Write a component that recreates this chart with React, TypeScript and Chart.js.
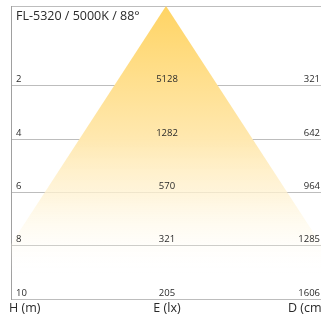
import React, { useEffect, useRef } from "react";
import { Chart, registerables } from "chart.js";

Chart.register(...registerables);

const title = "FL-5320 / 5000K / 88°";
const heights = [2, 4, 6, 8, 10];
const illuminance = ["5128", "1282", "570", "321", "205"];
const diameters = ["321", "642", "964", "1285", "1606"];
const footerLabels = ["H (m)", "E (lx)", "D (cm)"];
const beamX = [-1.23, 0, 1.23];
const beamY = [10, -1, 10];

const FONT = "'Open Sans', 'DejaVu Sans', sans-serif";

const labelPlugin = {
  id: "beamLabels",
  afterDraw(chart: any) {
    const { ctx, chartArea, scales } = chart;
    const y = scales.y;
    const x = scales.x;
    ctx.save();
    ctx.fillStyle = "#2a2a2a";
    ctx.textBaseline = "alphabetic";
    ctx.font = `12.5px ${FONT}`;
    ctx.textAlign = "left";
    ctx.fillText(title, chartArea.left + 5, 20);
    ctx.font = `9.5px ${FONT}`;
    heights.forEach((h, i) => {
      const py = y.getPixelForValue(h) - 3.5;
      ctx.textAlign = "left";
      ctx.fillText(String(h), chartArea.left + 5, py);
      ctx.textAlign = "center";
      ctx.fillText(illuminance[i], x.getPixelForValue(0) + 1, py);
      ctx.textAlign = "right";
      ctx.fillText(diameters[i], chartArea.right - 1, py);
    });
    ctx.font = `12.5px ${FONT}`;
    const fy = y.getPixelForValue(10) + 13;
    ctx.textAlign = "left";
    ctx.fillText(footerLabels[0], chartArea.left - 2, fy);
    ctx.textAlign = "center";
    ctx.fillText(footerLabels[1], x.getPixelForValue(0) + 1, fy);
    ctx.textAlign = "left";
    ctx.fillText(footerLabels[2], chartArea.right - 33, fy);
    ctx.restore();
  },
};

export default function App() {
  const ref = useRef<HTMLCanvasElement | null>(null);
  useEffect(() => {
    if (!ref.current) return;
    const chart = new Chart(ref.current, {
      type: "line",
      data: {
        datasets: [
          {
            data: beamX.map((v, i) => ({ x: v, y: beamY[i] })),
            borderWidth: 0,
            pointRadius: 0,
            fill: { value: 10 },
            tension: 0,
            backgroundColor: (c: any) => {
              const area = c.chart.chartArea;
              if (!area) return "rgba(255,214,110,0.8)";
              const g = c.chart.ctx.createLinearGradient(0, area.top, 0, area.bottom);
              g.addColorStop(0, "rgba(255,212,100,1)");
              g.addColorStop(0.45, "rgba(255,232,175,1)");
              g.addColorStop(0.65, "rgba(255,242,210,0.75)");
              g.addColorStop(0.82, "rgba(255,250,235,0.25)");
              g.addColorStop(0.92, "rgba(255,255,255,0)");
              return g;
            },
          },
        ],
      },
      options: {
        animation: false,
        responsive: false,
        maintainAspectRatio: false,
        layout: { padding: { left: 11, top: 6, right: 0, bottom: 19 } },
        plugins: { legend: { display: false }, tooltip: { enabled: false } },
        scales: {
          x: { type: "linear", min: -1, max: 1, display: false },
          y: {
            type: "linear",
            reverse: true,
            min: -1,
            max: 10,
            z: 1,
            afterBuildTicks: (s: any) => {
              s.ticks = [-1, ...heights].map((v) => ({ value: v }));
            },
            ticks: { display: false },
            grid: { color: "#bdbdbd", lineWidth: 1, drawTicks: false },
            border: { display: true, color: "#a0a0a0", width: 1 },
          },
        },
      },
      plugins: [labelPlugin],
    });
    return () => chart.destroy();
  }, []);
  return (
    <div style={{ position: "absolute", left: 0, top: 0, width: 321, height: 318, overflow: "hidden", background: "#fff" }}>
      <canvas ref={ref} width={321} height={318} style={{ display: "block" }} />
    </div>
  );
}
